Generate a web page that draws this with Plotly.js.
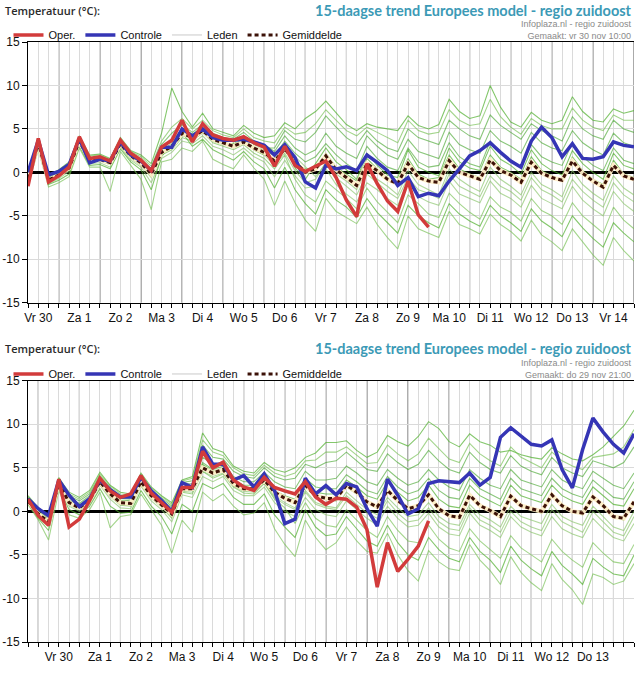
<!DOCTYPE html>
<html>
<head>
<meta charset="utf-8">
<script src="https://cdn.plot.ly/plotly-3.0.1.min.js"></script>
<style>html,body{margin:0;padding:0;background:#fff;}#chart{width:638px;height:673px;}</style>
</head>
<body>
<div id="chart"></div>
<script>
// ---------- DATA (6-hourly values, °C) ----------
// Top chart: run "vr 30 nov 10:00", first value Fri 30 Nov 06:00
const startHourTop = 6;      // hours after Fri 30 Nov 00:00
const stepHours = 6;
const dayLabelsTop = ["Vr 30","Za 1","Zo 2","Ma 3","Di 4","Wo 5","Do 6","Vr 7","Za 8","Zo 9","Ma 10","Di 11","Wo 12","Do 13","Vr 14"];

const operTop = [-1.6,3.9,-1.1,-0.4,0.6,4.1,1.6,1.8,1.3,3.7,2.2,1.4,0.2,2.9,3.7,6.0,3.5,5.6,4.3,3.9,3.7,4.1,3.4,2.9,0.7,3.0,0.8,0.1,0.7,1.3,-0.6,-3.2,-5.1,1.0,-1.3,-3.3,-4.5,-1.0,-4.9,-6.3];
const controleTop = [0.0,3.7,-0.3,0.1,0.9,3.9,1.1,1.5,1.3,3.5,2.0,1.3,0.2,2.9,2.9,5.0,4.2,5.0,4.0,3.7,3.7,3.8,3.5,3.1,2.0,3.2,1.7,-1.1,-1.8,0.8,0.4,0.65,0.2,2.0,1.15,0.2,-1.5,-0.6,-2.8,-2.4,-2.7,-1.0,0.4,1.9,2.5,3.4,2.3,1.3,0.6,3.6,5.2,4.0,1.8,3.3,1.6,1.5,1.8,3.5,3.1,2.95];
const gemiddeldeTop = [-0.7,3.4,-0.9,-0.3,0.5,3.6,1.4,1.5,1.1,3.3,1.9,1.1,-0.2,2.3,3.0,4.5,4.0,4.8,3.8,3.4,3.0,3.5,2.8,2.3,1.3,2.7,1.2,0.0,0.4,1.9,0.3,-0.6,-1.5,1.0,0.2,-0.8,-1.3,1.0,-0.6,-1.0,-1.15,1.35,0.0,-0.4,-0.8,1.4,0.2,-0.3,-1.15,1.15,-0.1,-0.6,-0.9,1.3,-0.1,-1.0,-1.7,0.8,-0.4,-0.8];
const ledenTop = [
 [-0.3,3.9,-0.4,0.3,1.2,4.2,2.0,2.1,1.6,4.0,2.5,2.0,1.0,4.5,9.7,7.0,5.2,6.8,5.0,4.6,4.2,5.4,4.5,4.0,4.2,5.7,5.0,6.2,7.0,8.2,6.8,5.5,4.8,5.6,5.2,5.0,4.8,6.5,5.4,5.0,5.5,8.4,7.0,6.2,6.5,10.0,7.5,5.8,5.2,6.9,6.0,5.6,6.0,8.7,7.0,6.0,5.8,7.3,6.8,7.1],
 [-1.5,2.6,-1.7,-1.2,-0.5,2.8,0.6,0.6,-2.2,2.4,0.8,-0.8,-4.3,1.2,1.5,2.8,2.4,3.6,1.5,0.9,0.4,2.0,0.5,-0.8,-3.8,-1.0,-3.5,-5.5,-6.8,-3.0,-4.5,-5.2,-5.9,-4.0,-6.0,-7.5,-8.8,-5.0,-6.5,-7.0,-7.5,-4.5,-6.0,-6.5,-7.1,-4.8,-6.0,-6.8,-7.9,-5.5,-7.2,-8.0,-9.0,-6.5,-8.0,-9.5,-10.7,-7.5,-9.0,-10.2],
 [-0.5,3.7,-0.6,0.0,0.8,3.9,1.7,1.8,1.4,3.6,2.2,1.5,0.4,3.2,4.5,5.5,4.6,5.5,4.5,4.0,3.8,4.6,3.6,3.2,2.4,4.2,2.8,2.0,2.6,4.5,3.0,2.2,1.6,4.2,3.0,2.0,1.5,3.8,2.4,2.0,1.6,4.6,3.2,2.6,2.2,4.8,3.6,3.0,2.2,4.6,3.4,2.8,2.5,4.8,3.4,2.6,2.0,4.5,3.4,3.0],
 [-1.0,3.1,-1.3,-0.7,0.1,3.2,1.0,1.1,0.6,2.9,1.4,0.6,-1.2,1.6,2.3,3.6,3.3,4.2,3.0,2.6,2.0,2.8,1.8,1.2,-0.5,1.4,-0.4,-1.8,-1.6,0.4,-1.4,-2.5,-3.4,-1.2,-2.0,-3.0,-3.8,-1.0,-2.8,-3.4,-3.8,-1.0,-2.5,-3.0,-3.5,-1.0,-2.4,-3.0,-4.0,-1.5,-3.0,-3.6,-4.2,-1.6,-3.2,-4.2,-5.0,-2.2,-3.6,-4.5],
 [-0.8,3.5,-0.8,-0.2,0.6,3.5,1.3,1.6,1.2,3.4,1.8,1.2,0.0,2.6,3.2,4.2,4.3,5.0,3.6,3.2,3.3,3.8,2.6,2.0,1.6,3.2,0.5,-0.8,1.0,2.8,1.2,0.3,-0.8,2.2,0.8,-0.3,-0.6,2.6,0.6,0.0,-0.4,2.8,1.2,0.5,0.2,3.0,1.5,0.8,-0.2,2.6,1.0,0.2,-0.3,2.5,1.0,0.0,-0.8,2.2,0.8,0.4],
 [-0.9,3.2,-1.1,-0.5,0.3,3.4,1.2,1.3,0.9,3.0,1.6,0.8,-0.6,2.0,2.6,4.0,3.6,4.6,3.4,3.0,2.6,3.2,2.2,1.6,0.4,2.0,-0.8,-2.6,-3.4,-1.0,-2.0,-3.0,-4.2,-1.8,-3.4,-4.6,-5.8,-2.6,-3.6,-4.8,-5.2,-2.4,-3.6,-4.6,-5.4,-2.8,-4.0,-4.6,-5.6,-3.0,-4.4,-5.0,-6.0,-3.5,-5.0,-6.0,-7.0,-4.0,-5.5,-6.5],
 [-0.6,3.6,-0.7,-0.1,0.7,3.8,1.6,1.7,1.3,3.5,2.0,1.3,0.2,2.8,3.6,5.0,4.4,5.2,4.2,3.8,3.5,4.2,3.2,2.8,2.8,4.8,3.8,3.5,4.6,6.5,5.2,4.0,3.2,4.8,3.6,2.8,2.4,5.0,4.0,3.6,3.2,6.0,5.0,4.2,3.8,6.6,5.4,4.6,3.8,5.6,4.8,4.2,3.6,6.4,5.0,4.2,3.8,6.0,5.0,4.6],
 [-0.7,3.3,-1.0,-0.4,0.4,3.6,1.5,1.4,1.0,3.2,1.7,1.0,-0.3,2.2,2.8,4.4,3.8,4.5,3.9,3.5,2.8,3.3,3.0,2.6,1.0,2.4,1.8,0.6,-0.5,1.0,-0.2,-1.0,-2.0,0.4,-0.8,-1.6,-2.6,0.2,-1.4,-2.0,-2.6,0.4,-0.8,-1.6,-2.2,0.6,-0.8,-1.6,-2.6,0.0,-1.4,-2.0,-2.8,0.2,-1.4,-2.4,-3.2,-0.4,-1.8,-2.6],
 [-1.2,2.9,-1.4,-0.9,-0.2,3.0,0.8,0.9,0.4,2.7,1.2,0.3,-2.0,1.8,3.4,4.6,3.0,3.8,2.6,2.0,1.4,2.4,1.2,0.4,-1.8,0.6,-2.0,-3.6,-4.8,-2.0,-3.2,-4.0,-5.2,-3.0,-4.6,-5.8,-7.0,-3.8,-5.0,-5.8,-6.4,-3.6,-4.8,-5.6,-6.2,-3.8,-5.0,-5.8,-6.8,-4.2,-5.6,-6.4,-7.4,-5.0,-6.4,-7.6,-8.6,-5.8,-7.0,-8.0],
 [-0.4,3.8,-0.5,0.2,1.0,4.0,1.9,2.0,1.5,3.8,2.4,1.8,0.7,3.6,5.2,6.2,5.0,6.0,4.8,4.3,4.0,5.0,4.0,3.6,3.4,5.2,4.4,4.6,5.6,7.2,6.0,4.8,4.2,5.2,4.6,4.0,3.4,6.0,4.8,4.4,4.6,7.2,6.0,5.4,5.6,8.4,6.4,5.2,4.4,6.2,5.4,5.0,5.0,7.4,6.0,5.2,4.8,6.6,6.0,6.0],
 [-0.6,3.5,-0.7,-0.2,0.7,3.7,1.5,1.6,1.2,3.4,2.0,1.2,-0.1,2.5,3.3,4.7,4.1,4.9,3.9,3.5,3.1,3.7,2.9,2.5,1.9,3.6,2.2,1.2,1.8,3.3,2.0,1.0,0.2,3.0,1.6,0.6,0.2,2.8,1.2,0.6,0.8,3.4,1.8,1.0,0.6,3.6,2.2,1.4,0.6,3.2,1.8,1.2,0.8,3.4,1.8,0.8,0.2,2.8,1.4,1.0],
 [-0.9,3.3,-1.0,-0.4,0.4,3.5,1.3,1.4,1.0,3.1,1.8,1.0,-0.4,2.1,2.9,4.3,3.9,4.6,3.6,3.2,2.9,3.4,2.6,2.0,0.8,2.2,0.2,-1.2,-0.8,1.2,-0.6,-1.6,-2.6,-0.2,-1.2,-2.2,-3.0,-0.6,-2.0,-2.4,-3.0,-0.2,-1.6,-2.2,-2.8,-0.4,-1.6,-2.2,-3.2,-0.6,-2.0,-2.6,-3.4,-0.8,-2.2,-3.2,-4.0,-1.2,-2.6,-3.4],
 [-0.7,3.4,-0.8,-0.3,0.5,3.6,1.4,1.5,1.1,3.3,1.9,1.1,-0.2,2.4,3.1,4.6,4.1,4.7,3.7,3.3,3.0,3.6,2.7,2.2,1.4,2.9,1.0,0.4,0.2,2.2,0.6,-0.2,-1.0,1.6,0.4,-0.6,-1.0,1.6,-0.2,-0.8,-0.6,2.0,0.4,-0.2,-0.6,2.0,0.6,0.0,-0.8,1.8,0.2,-0.4,-1.0,1.8,0.2,-0.8,-1.4,1.4,-0.2,-0.6]
];

// Bottom chart: run "do 29 nov 21:00", first value Thu 29 Nov 18:00
const startHourBottom = -6;  // hours after Fri 30 Nov 00:00
const dayLabelsBottom = ["Vr 30","Za 1","Zo 2","Ma 3","Di 4","Wo 5","Do 6","Vr 7","Za 8","Zo 9","Ma 10","Di 11","Wo 12","Do 13"];

const operBottom = [1.4,-0.5,-1.6,3.7,-1.8,-0.9,1.25,3.8,2.35,1.6,2.0,4.1,2.1,1.05,-0.1,2.75,2.75,6.9,5.0,5.65,3.6,2.8,2.4,3.9,2.75,2.35,2.0,3.4,1.65,0.8,1.5,1.4,0.5,-2.1,-8.7,-3.6,-6.9,-5.5,-4.0,-1.1];
const controleBottom = [1.45,0.3,-0.5,3.6,1.85,0.55,1.45,3.6,2.5,1.65,1.65,3.9,2.35,1.25,0.0,3.3,2.75,7.4,5.4,5.4,3.6,4.1,2.8,4.3,2.4,-1.4,-0.9,3.8,2.0,2.95,1.9,3.2,2.8,0.3,-1.7,3.7,1.85,-0.3,0.3,3.2,3.5,3.4,3.3,4.4,3.0,3.9,8.5,9.6,8.7,7.7,7.5,8.2,4.8,2.7,7.1,10.7,9.1,7.7,6.7,8.9];
const gemiddeldeBottom = [1.2,-0.3,-1.2,3.3,1.0,0.4,1.3,3.4,2.0,1.0,0.9,3.4,1.8,0.8,-0.3,2.6,2.6,5.0,4.4,4.8,3.2,2.6,2.6,3.6,2.2,1.5,1.0,3.0,1.8,1.5,1.45,3.0,2.2,1.1,0.5,2.4,1.25,0.3,0.65,1.9,0.3,-0.5,-0.7,1.85,0.65,0.1,-0.6,1.75,0.65,0.3,0.0,1.9,0.65,0.0,-0.2,1.65,0.65,-0.6,-0.8,1.1];
const ledenBottom = [
 [1.8,0.4,-0.4,3.8,2.2,1.6,2.4,4.5,3.0,2.2,2.0,4.4,2.8,1.8,1.0,3.6,4.0,9.0,7.2,6.8,5.2,4.6,4.4,5.6,4.8,4.5,5.0,6.2,6.7,7.9,7.9,8.1,7.0,6.2,6.8,8.7,8.0,7.5,8.6,10.3,9.5,8.0,7.4,8.9,8.0,7.6,6.8,7.0,6.5,6.2,6.0,7.3,6.6,6.0,5.8,6.5,7.4,8.6,9.8,11.6],
 [0.8,-1.0,-3.3,2.4,-0.4,-0.8,0.2,2.2,-1.9,-0.6,-0.4,2.0,0.2,-1.6,-4.8,-1.0,-2.4,2.2,1.2,2.0,0.6,-0.4,-0.2,1.0,-2.0,-3.8,-5.2,-1.0,-3.0,-4.4,-3.6,-1.8,-3.4,-4.6,-4.8,-2.5,-5.0,-6.8,-8.0,-4.5,-5.8,-6.6,-6.8,-3.8,-5.6,-6.8,-8.4,-5.2,-7.0,-8.2,-9.1,-6.0,-7.8,-9.0,-10.7,-7.2,-7.6,-8.4,-8.0,-6.0],
 [1.5,0.1,-0.8,3.6,1.5,0.9,1.8,3.9,2.5,1.5,1.4,3.8,2.3,1.3,0.4,3.1,3.2,6.2,5.4,5.6,4.0,3.4,3.4,4.5,3.4,2.8,2.6,4.6,3.6,3.6,3.8,5.2,4.4,3.4,3.0,4.8,3.8,3.0,3.4,4.8,3.6,2.8,2.4,4.8,3.8,3.0,2.6,4.8,3.6,3.2,2.8,4.8,3.6,3.0,2.6,4.6,3.8,3.0,2.6,4.4],
 [1.0,-0.6,-1.7,3.0,0.6,0.0,0.9,3.0,1.4,0.4,0.3,2.9,1.2,0.2,-1.2,1.9,1.6,4.0,3.4,4.0,2.4,1.8,1.8,2.8,1.0,0.0,-0.6,1.6,0.2,-0.4,-0.6,1.2,0.2,-0.8,-1.6,0.6,-0.8,-1.8,-1.6,-0.2,-1.8,-2.6,-2.8,-0.2,-1.6,-2.2,-3.0,-0.6,-1.8,-2.4,-2.8,-0.6,-2.0,-2.6,-3.0,-0.8,-2.0,-3.0,-3.4,-1.4],
 [1.3,-0.2,-1.0,3.4,1.2,0.6,1.4,3.5,2.2,1.2,1.0,3.5,1.9,0.9,-0.1,2.7,2.8,5.4,4.6,5.0,3.4,2.8,2.7,3.8,2.4,1.8,1.4,3.4,2.2,2.0,2.0,3.6,2.8,1.8,1.4,3.4,2.2,1.2,1.6,3.0,1.4,0.6,0.4,3.0,1.8,1.2,0.6,3.0,1.8,1.4,1.0,3.0,1.8,1.2,0.8,2.8,1.8,0.8,0.6,2.6],
 [1.1,-0.4,-1.5,3.1,0.8,0.2,1.1,3.2,1.7,0.7,0.6,3.1,1.5,0.5,-0.8,2.2,2.0,4.6,3.8,4.3,2.8,2.1,2.0,3.2,1.4,0.4,-1.4,1.0,-0.8,-1.6,-1.8,0.2,-1.0,-2.2,-3.0,-0.6,-2.2,-3.4,-3.6,-1.6,-3.2,-4.2,-4.6,-2.0,-3.4,-4.4,-5.4,-2.8,-4.2,-5.0,-5.8,-3.2,-4.6,-5.6,-6.4,-3.6,-4.8,-5.8,-6.0,-3.8],
 [1.6,0.2,-0.6,3.7,1.8,1.2,2.0,4.1,2.7,1.8,1.7,4.0,2.5,1.5,0.6,3.3,3.5,7.6,6.2,6.0,4.6,4.0,3.8,5.0,4.0,3.6,3.8,5.4,5.0,5.6,5.8,6.8,5.8,4.8,4.6,6.6,5.6,4.8,5.4,7.0,5.8,4.8,4.4,6.8,5.6,4.8,4.4,6.4,5.2,4.6,4.2,6.2,5.0,4.4,4.0,5.8,5.4,5.0,5.6,7.4],
 [1.2,-0.3,-1.3,3.2,0.9,0.3,1.2,3.3,1.9,0.9,0.8,3.3,1.7,0.7,-0.5,2.4,2.4,4.8,4.2,4.6,3.0,2.4,2.4,3.4,1.8,1.0,0.4,2.4,1.0,0.6,0.4,2.2,1.2,0.2,-0.4,1.6,0.4,-0.6,-0.4,1.0,-0.6,-1.4,-1.6,0.8,-0.4,-1.0,-1.8,0.6,-0.6,-1.0,-1.4,0.8,-0.6,-1.2,-1.6,0.6,-0.6,-1.8,-2.2,0.0],
 [0.9,-0.8,-2.2,2.7,0.2,-0.4,0.6,2.6,0.6,-0.2,-0.1,2.4,0.6,-0.6,-2.6,0.8,0.0,3.2,2.6,3.2,1.6,0.8,0.8,2.0,-0.4,-1.8,-3.0,0.2,-1.8,-2.8,-2.6,-0.6,-2.0,-3.4,-4.0,-1.6,-3.6,-5.0,-5.6,-3.0,-4.4,-5.4,-5.8,-3.0,-4.6,-5.6,-7.0,-4.0,-5.6,-6.6,-7.4,-4.6,-6.2,-7.2,-8.4,-5.4,-6.4,-7.2,-7.4,-5.0],
 [1.7,0.3,-0.5,3.9,2.0,1.4,2.2,4.3,2.9,2.0,1.9,4.2,2.7,1.7,0.8,3.5,3.8,8.2,6.8,6.4,5.0,4.3,4.1,5.3,4.4,4.0,4.4,5.8,5.9,6.8,6.8,7.4,6.4,5.5,5.6,7.6,6.6,5.8,6.6,8.4,7.2,6.0,5.6,7.8,6.6,5.8,5.2,7.4,6.2,5.6,5.0,6.8,5.8,5.2,4.8,6.2,6.4,6.6,7.4,9.4],
 [1.3,-0.1,-0.9,3.5,1.3,0.7,1.5,3.6,2.3,1.3,1.2,3.6,2.0,1.0,0.1,2.8,3.0,5.6,4.8,5.2,3.6,3.0,3.0,4.0,2.8,2.2,2.0,3.8,2.8,2.6,2.6,4.2,3.4,2.4,2.0,4.0,2.8,2.0,2.4,3.8,2.4,1.6,1.4,3.8,2.6,2.0,1.4,3.8,2.6,2.2,1.8,3.8,2.6,2.0,1.6,3.6,2.6,1.6,1.4,3.4],
 [1.1,-0.5,-1.4,3.1,0.8,0.2,1.1,3.2,1.8,0.8,0.7,3.2,1.6,0.6,-0.6,2.3,2.2,4.6,4.0,4.4,2.9,2.3,2.2,3.3,1.6,0.8,0.2,2.2,0.8,0.4,0.2,1.8,0.8,-0.2,-0.8,1.2,-0.2,-1.2,-1.0,0.4,-1.2,-2.0,-2.2,0.4,-1.0,-1.6,-2.4,0.0,-1.2,-1.8,-2.2,0.2,-1.2,-1.8,-2.4,0.0,-1.2,-2.4,-2.8,-0.6],
 [1.2,-0.3,-1.1,3.3,1.1,0.5,1.3,3.4,2.1,1.1,1.0,3.4,1.8,0.8,-0.2,2.6,2.7,5.2,4.4,4.9,3.3,2.7,2.6,3.7,2.2,1.4,1.0,3.0,1.6,1.4,1.2,2.8,2.0,1.0,0.4,2.4,1.2,0.4,0.6,2.0,0.4,-0.4,-0.6,2.0,0.8,0.2,-0.6,1.8,0.6,0.2,-0.2,1.8,0.6,0.0,-0.4,1.6,0.6,-0.6,-1.0,1.0]
];

// ---------- BUILD ----------
const xs = (start, arr) => arr.map((_, i) => start + stepHours * i);

const RED = '#d23b3b', BLUE = '#3535b5', DOT = '#3c1208';
const MEMBER_COLORS = ['rgba(80,175,45,0.7)','rgba(115,190,80,0.65)','rgba(60,160,35,0.6)','rgba(135,195,105,0.65)'];

function panelTraces(xa, ya, leg, start, leden, gem, ctrl, oper) {
  const tr = [];
  leden.forEach((m, k) => tr.push({
    type:'scatter', mode:'lines', x: xs(start, m), y: m, xaxis: xa, yaxis: ya,
    line:{color: MEMBER_COLORS[k % MEMBER_COLORS.length], width:1.1}, showlegend:false, hoverinfo:'skip'
  }));
  tr.push({type:'scatter', mode:'lines', x: xs(start, gem), y: gem, xaxis: xa, yaxis: ya,
    line:{color:'rgba(255,238,200,0.95)', width:4.5}, showlegend:false, hoverinfo:'skip'});
  tr.push({type:'scatter', mode:'lines', name:'Gemiddelde', x: xs(start, gem), y: gem, xaxis: xa, yaxis: ya,
    line:{color:DOT, width:3, dash:'4px,3px'}, legend: leg, legendrank: 4});
  tr.push({type:'scatter', mode:'lines', name:'Controle', x: xs(start, ctrl), y: ctrl, xaxis: xa, yaxis: ya,
    line:{color:BLUE, width:3.5}, legend: leg, legendrank: 2});
  tr.push({type:'scatter', mode:'lines', name:'Oper.', x: xs(start, oper), y: oper, xaxis: xa, yaxis: ya,
    line:{color:RED, width:3.5}, legend: leg, legendrank: 1});
  tr.push({type:'scatter', mode:'lines', name:'Leden', x:[null], y:[null], xaxis: xa, yaxis: ya,
    line:{color:'#c9c9c9', width:1}, legend: leg, legendrank: 3});
  return tr;
}

const traces = [].concat(
  panelTraces('x','y','legend', startHourTop, ledenTop, gemiddeldeTop, controleTop, operTop),
  panelTraces('x2','y2','legend2', startHourBottom, ledenBottom, gemiddeldeBottom, controleBottom, operBottom)
);

const nSteps = 59;
const rangeTop = [startHourTop, startHourTop + stepHours * nSteps];
const rangeBottom = [startHourBottom, startHourBottom + stepHours * nSteps];

function xAxis(range, labels, anchor) {
  return {
    range: range, anchor: anchor, tickmode:'array',
    tickvals: labels.map((_, k) => 12 + 24 * k), ticktext: labels,
    ticks:'outside', ticklen:4, tickcolor:'#000', tickwidth:1,
    showgrid:true, gridcolor:'#dadada', gridwidth:1, zeroline:false,
    showline:true, linecolor:'#000', linewidth:1, mirror:true,
    tickfont:{size:12, color:'#111'}, fixedrange:true,
    minor:{tickmode:'linear', tick0:0, dtick:6, ticks:'outside', ticklen:4, tickcolor:'#000', showgrid:true, gridcolor:'#dadada', gridwidth:1}
  };
}
function yAxis(domain, anchor) {
  return {
    domain: domain, anchor: anchor, range:[-15,15], tickmode:'array',
    tickvals:[-15,-10,-5,0,5,10,15], ticktext:['-15','-10','-5','0','5','10','15'],
    ticks:'outside', ticklen:5, tickcolor:'#000', showgrid:true, gridcolor:'#dadada',
    zeroline:true, zerolinecolor:'#000', zerolinewidth:2.5,
    showline:true, linecolor:'#000', linewidth:1, tickfont:{size:12, color:'#111'}, fixedrange:true
  };
}

// dark day-boundary lines (midnight)
const shapes = [];
function dayLines(range, xref) {
  for (let h = Math.ceil(range[0] / 24) * 24; h <= range[1]; h += 24) {
    if (h <= range[0]) continue;
    shapes.push({type:'line', xref: xref, yref: xref === 'x' ? 'y domain' : 'y2 domain',
      x0:h, x1:h, y0:0, y1:1, line:{color:'#555', width:1}, layer:'below'});
  }
}
dayLines(rangeTop, 'x');
dayLines(rangeBottom, 'x2');

const yTopDom = [0.5655, 1];
const yBotDom = [0, 0.4355];

function headers(yTitle, ySub, madeText) {
  return [
    {xref:'paper', yref:'paper', x:-0.041, y:yTitle, xanchor:'left', yanchor:'middle', showarrow:false,
     text:'Temperatuur (°C):', font:{family:'Open Sans, DejaVu Sans, sans-serif', size:11, weight:600, color:'#2a2a2a'}},
    {xref:'paper', yref:'paper', x:1.0, y:yTitle, xanchor:'right', yanchor:'middle', showarrow:false,
     text:'<b>15-daagse trend Europees model - regio zuidoost</b>', font:{family:'Lato, Open Sans, sans-serif', size:14.5, color:'#3c9ab6'}},
    {xref:'paper', yref:'paper', x:1.0, y:ySub, xanchor:'right', yanchor:'middle', align:'right', showarrow:false,
     text:'Infoplaza.nl - regio zuidoost<br>' + madeText, font:{family:'Liberation Sans, Arial, sans-serif', size:9, color:'#8a8a8a'}}
  ];
}

const legendBase = {orientation:'h', xanchor:'center', yanchor:'middle', x:0.2475, font:{size:11, color:'#111'},
  bgcolor:'rgba(0,0,0,0)', borderwidth:0, itemwidth:30, traceorder:'normal',
  itemclick:false, itemdoubleclick:false};

const layout = {
  width:638, height:673,
  margin:{l:28, r:4, t:42, b:31},
  paper_bgcolor:'#fff', plot_bgcolor:'#fff',
  font:{family:'Liberation Sans, Arial, sans-serif', size:12, color:'#111'},
  xaxis: xAxis(rangeTop, dayLabelsTop, 'y'),
  yaxis: yAxis(yTopDom, 'x'),
  xaxis2: xAxis(rangeBottom, dayLabelsBottom, 'y2'),
  yaxis2: yAxis(yBotDom, 'x2'),
  showlegend:true,
  legend: Object.assign({}, legendBase, {y:1.0117}),
  legend2: Object.assign({}, legendBase, {y:0.4467}),
  shapes: shapes,
  annotations: [].concat(
    headers(1.0533, 1.0192, 'Gemaakt: vr 30 nov 10:00'),
    headers(0.490, 0.4558, 'Gemaakt: do 29 nov 21:00')
  ),
  hovermode:false
};

Plotly.newPlot('chart', traces, layout, {displayModeBar:false, staticPlot:true});
</script>
</body>
</html>
